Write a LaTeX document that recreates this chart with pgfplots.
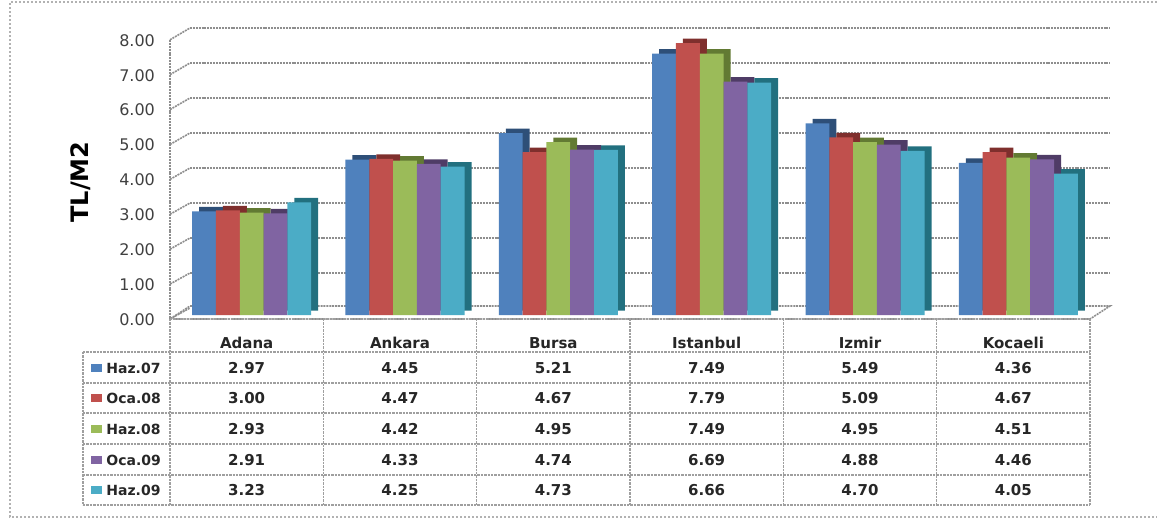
\documentclass[border=0pt]{standalone}
\usepackage{pgfplots}
\pgfplotsset{compat=1.18}
\usepackage{pgfplotstable}
\usepackage{fontspec}
\setmainfont{DejaVu Sans}
\definecolor{cA}{HTML}{4F81BD}
\definecolor{cB}{HTML}{C0504D}
\definecolor{cC}{HTML}{9BBB59}
\definecolor{cD}{HTML}{8064A2}
\definecolor{cE}{HTML}{4BACC6}
\definecolor{dA}{HTML}{2E4F78}
\definecolor{dB}{HTML}{7F2F2D}
\definecolor{dC}{HTML}{627A33}
\definecolor{dD}{HTML}{4F3C66}
\definecolor{dE}{HTML}{22707F}
\definecolor{gridgray}{HTML}{8E8E8E}
\definecolor{ticktext}{HTML}{404040}

\pgfplotstableread{
x cat h07 o08 h08 o09 h09
0 Adana 2.97 3.00 2.93 2.91 3.23
1 Ankara 4.45 4.47 4.42 4.33 4.25
2 Bursa 5.21 4.67 4.95 4.74 4.73
3 Istanbul 7.49 7.79 7.49 6.69 6.66
4 Izmir 5.49 5.09 4.95 4.88 4.70
5 Kocaeli 4.36 4.67 4.51 4.46 4.05
}\datatable

\begin{document}
\begin{tikzpicture}
\begin{scope}[x=0.5pt,y=-0.5pt,shift={(-170,-315)}]
  \useasboundingbox (0,0) rectangle (1157,520);
  % outer dotted border
  \draw[gray!60, line width=0.8pt, dash pattern=on 1pt off 1pt] (1157,2) -- (10,2) -- (10,517) -- (1157,517);
  % floor
  \draw[gridgray, line width=0.8pt, dash pattern=on 1pt off 0.45pt, fill=white] (170,319) -- (1090,319) -- (1110,306) -- (190,306) -- cycle;
  % left wall
  \draw[gridgray, line width=0.8pt, dash pattern=on 1pt off 0.45pt] (170,40) -- (170,319);
  \foreach \k in {0,...,8} {
    \draw[gridgray, line width=0.8pt, dash pattern=on 1pt off 0.45pt] (170,319-34.9*\k) -- (190,308-35*\k);
  }
\end{scope}

% back wall grid
\begin{axis}[at={(10pt,3.5pt)}, anchor=south west, scale only axis,
  width=460pt, height=140pt, xmin=0, xmax=1, ymin=0, ymax=8,
  ytick={1,...,8}, xtick=\empty, yticklabels={}, axis line style={draw=none},
  major tick length=0pt, ymajorgrids,
  grid style={gridgray, line width=0.9pt, dash pattern=on 1pt off 0.45pt}]
  \addplot[draw=none] coordinates {(0,0) (1,8)};
\end{axis}

% main axis with bars
\begin{axis}[at={(0pt,0pt)}, anchor=south west, scale only axis,
  width=460pt, height=139.6pt, xmin=-0.5, xmax=5.5, ymin=0, ymax=8,
  ytick={0,...,8}, xtick=\empty, axis line style={draw=none},
  major tick length=0pt, clip=false,
  ybar, bar width=11.9pt,
  /pgf/number format/assume math mode=true,
  yticklabel={\pgfmathprintnumber[fixed,fixed zerofill,precision=2]{\tick}},
  yticklabel style={font=\fontsize{8}{9}\selectfont, text=ticktext, xshift=-4pt, yshift=-2.25pt},
  ylabel={TL/M2},
  every axis y label/.style={at={(rel axis cs:0,0.476)}, xshift=-44.5pt, rotate=90, anchor=center, font=\fontsize{12}{14}\selectfont\bfseries},
  ]
  % depth (side/top) faces
  \addplot[ybar, fill=dA, draw=none, bar shift=-17.8pt, yshift=2.25pt] table[x=x,y=h07]{\datatable};
  \addplot[ybar, fill=dB, draw=none, bar shift=-5.9pt,  yshift=2.25pt] table[x=x,y=o08]{\datatable};
  \addplot[ybar, fill=dC, draw=none, bar shift=6.0pt,   yshift=2.25pt] table[x=x,y=h08]{\datatable};
  \addplot[ybar, fill=dD, draw=none, bar shift=17.9pt,  yshift=2.25pt] table[x=x,y=o09]{\datatable};
  \addplot[ybar, fill=dE, draw=none, bar shift=29.8pt,  yshift=2.25pt] table[x=x,y=h09]{\datatable};
  % front faces
  \addplot[ybar, fill=cA, draw=none, bar shift=-21.3pt] table[x=x,y=h07]{\datatable};
  \addplot[ybar, fill=cB, draw=none, bar shift=-9.4pt]  table[x=x,y=o08]{\datatable};
  \addplot[ybar, fill=cC, draw=none, bar shift=2.5pt]   table[x=x,y=h08]{\datatable};
  \addplot[ybar, fill=cD, draw=none, bar shift=14.4pt]  table[x=x,y=o09]{\datatable};
  \addplot[ybar, fill=cE, draw=none, bar shift=26.3pt]  table[x=x,y=h09]{\datatable};
\end{axis}

% data table
\begin{scope}[x=0.5pt,y=-0.5pt,shift={(-170,-315)},
  tbl/.style={gray!75, line width=0.7pt, dash pattern=on 1.2pt off 0.5pt},
  tt/.style={font=\fontsize{7.5}{9}\selectfont\bfseries, text=black!85, inner sep=0pt},
  lt/.style={font=\fontsize{7}{9}\selectfont\bfseries, text=black!85, inner sep=0pt}]
  \draw[tbl] (170,319) -- (1090,319);
  \foreach \yy in {352,383,413,444,475,505} \draw[tbl] (83,\yy) -- (1090,\yy);
  \foreach \xx in {170,323.33,476.67,630,783.33,936.67,1090} \draw[tbl] (\xx,319) -- (\xx,505);
  \draw[tbl] (83,352) -- (83,505);
  \foreach \n [count=\i from 0] in {Adana,Ankara,Bursa,Istanbul,Izmir,Kocaeli}
    \node[tt] at (246.67+153.33*\i,343) {\n};
  \foreach \lab/\col/\yy/\vals in {
      Haz.07/cA/368/{2.97,4.45,5.21,7.49,5.49,4.36},
      Oca.08/cB/398/{3.00,4.47,4.67,7.79,5.09,4.67},
      Haz.08/cC/429/{2.93,4.42,4.95,7.49,4.95,4.51},
      Oca.09/cD/460/{2.91,4.33,4.74,6.69,4.88,4.46},
      Haz.09/cE/490/{3.23,4.25,4.73,6.66,4.70,4.05}} {
    \fill[\col] (91,\yy-4) rectangle (102,\yy+4);
    \node[lt, anchor=west] at (106,\yy) {\lab};
    \foreach \v [count=\i from 0] in \vals
      \node[tt] at (246.67+153.33*\i,\yy) {\v};
  }
\end{scope}
\end{tikzpicture}
\end{document}
